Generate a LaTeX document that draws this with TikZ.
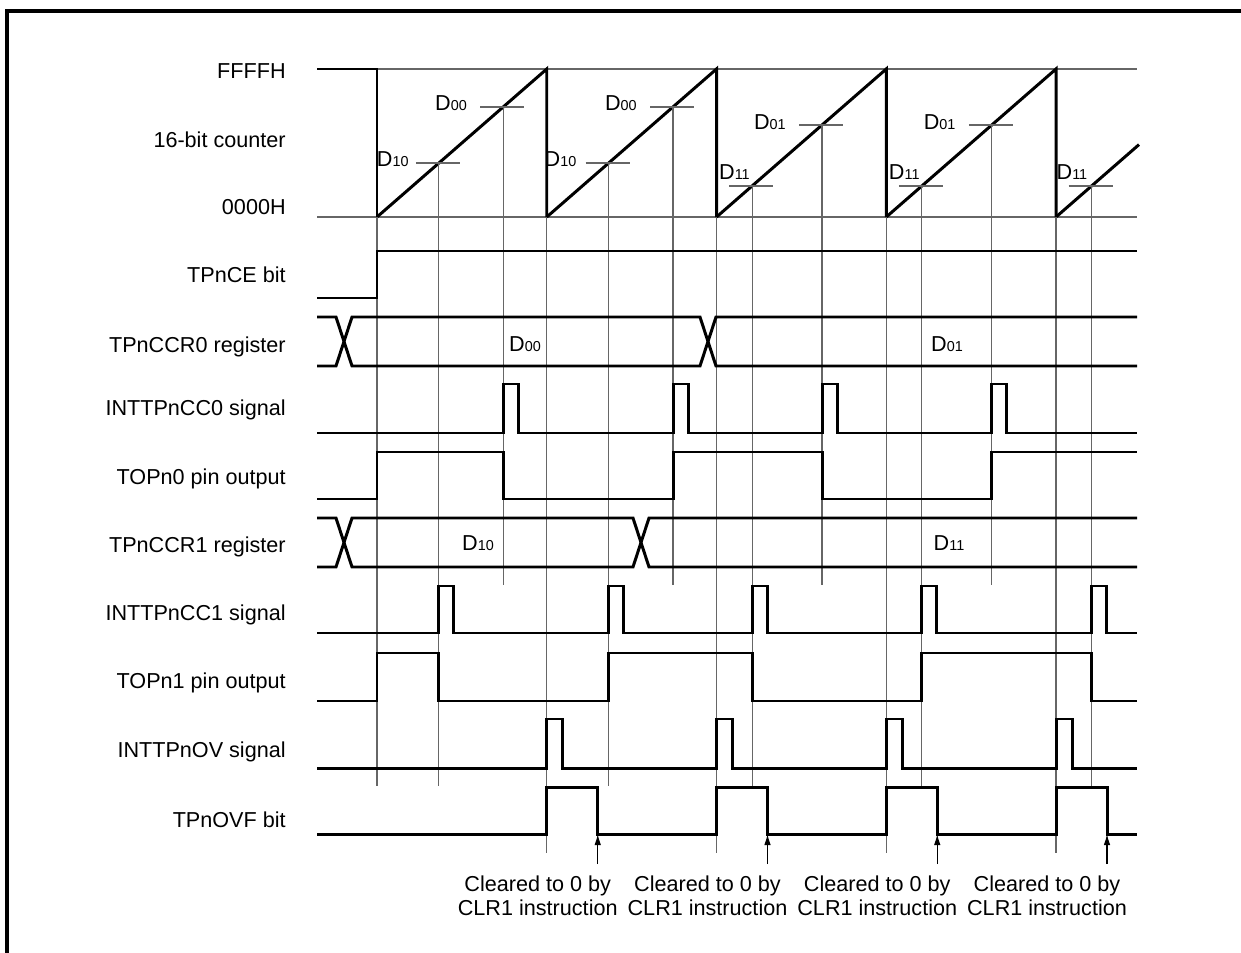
\documentclass[tikz,border=0pt]{standalone}
\usepackage{fontspec}
\setmainfont{Liberation Sans}
\usetikzlibrary{arrows.meta}

\newcommand{\Dval}[1]{D{\fontsize{8.2}{9}\selectfont #1}}

\begin{document}
\begin{tikzpicture}[x=0.02cm,y=-0.02cm,
  sig/.style={line width=1.7pt},
  guide/.style={line width=0.6pt,black!60},
  lbl/.style={anchor=east,inner sep=0pt},
  dlbl/.style={anchor=base east,inner sep=0pt},
  font=\fontsize{12.3}{14.2}\selectfont]

  \useasboundingbox (0,0) rectangle (1241,953);

  % Draw frame
  \draw[line width=1.8pt] (7,953) -- (7,11) -- (1241,11);

  % Row labels
  \node[lbl] (lblFFFF) at (286,71) {FFFFH};
  \node[lbl] (lblCnt) at (286,140) {16-bit counter};
  \node[lbl] (lblZero) at (286,207) {0000H};
  \node[lbl] (lblCE) at (286,275) {TPnCE bit};
  \node[lbl] (lblCCR0) at (286,347) {TPnCCR0 register};
  \node[lbl] (lblCC0) at (286,410) {INTTPnCC0 signal};
  \node[lbl] (lblTOP0) at (286,479) {TOPn0 pin output};
  \node[lbl] (lblCCR1) at (286,547) {TPnCCR1 register};
  \node[lbl] (lblCC1) at (286,615) {INTTPnCC1 signal};
  \node[lbl] (lblTOP1) at (286,683) {TOPn1 pin output};
  \node[lbl] (lblOV) at (286,752) {INTTPnOV signal};
  \node[lbl] (lblOVF) at (286,820) {TPnOVF bit};

  % Draw counter
  \draw[guide] (377,69) -- (1137,69);
  \draw[guide] (317,217) -- (1137,217);
  \draw[sig] (317,69) -- (377,69) -- (377,217);
  \foreach \s in {377,546.75,716.5,886.25}
    \draw[sig] (\s,217) -- (\s+169.75,69) -- (\s+169.75,217);
  \draw[sig] (1056,217) -- (1139,144.6);

  % Draw guides at counter start and overflow
  \draw[guide] (377,217) -- (377,786);
  \foreach \x in {546.75,716.5,886.25,1056}
    \draw[guide] (\x,217) -- (\x,853);

  % Compare values D1x
  \foreach \x/\y/\n/\lx/\ly [count=\i] in {438.9/163/10/-30/167, 608.7/163/10/-32/167,
      752.1/186/11/-2/179, 921.9/186/11/-2/179, 1091.6/186/11/-4/179} {
    \draw[guide] (\x-23,\y) -- (\x+21,\y);
    \draw[guide] (\x,\y) -- (\x,786);
    \node[dlbl] (cntB\i) at (\x+\lx,\ly) {\Dval{\n}};
  }

  % Compare values D0x
  \foreach \x/\y/\n/\ly [count=\i] in {503.2/107/00/111, 673/107/00/111,
      822/125/01/130, 991.8/125/01/130} {
    \draw[guide] (\x-23,\y) -- (\x+21,\y);
    \draw[guide] (\x,\y) -- (\x,585);
    \node[dlbl] (cntA\i) at (\x-36,\ly) {\Dval{\n}};
  }

  % TPnCE bit
  \draw[sig] (317,298) -- (377,298) -- (377,251) -- (1137,251);

  % TPnCCR0 register
  \draw[sig] (317,317) -- (336,317) -- (352,366) -- (700,366) -- (716,317) -- (1137,317);
  \draw[sig] (317,366) -- (336,366) -- (352,317) -- (700,317) -- (716,366) -- (1137,366);
  \node (ccr0a) at (525,344) {\Dval{00}};
  \node (ccr0b) at (947,344) {\Dval{01}};

  % INTTPnCC0 signal
  \draw[sig] (317,433) \foreach \p in {503.2,673,822,991.8} {
    -- (\p,433) -- (\p,384) -- (\p+15,384) -- (\p+15,433)} -- (1137,433);

  % TOPn0 pin output
  \draw[sig] (317,499) -- (377,499) -- (377,452) -- (503.2,452) -- (503.2,499)
    -- (673,499) -- (673,452) -- (822,452) -- (822,499) -- (991.8,499)
    -- (991.8,452) -- (1137,452);

  % TPnCCR1 register
  \draw[sig] (317,518) -- (336,518) -- (352,567) -- (633,567) -- (649,518) -- (1137,518);
  \draw[sig] (317,567) -- (336,567) -- (352,518) -- (633,518) -- (649,567) -- (1137,567);
  \node (ccr1a) at (478,543) {\Dval{10}};
  \node (ccr1b) at (949,543) {\Dval{11}};

  % INTTPnCC1 signal
  \draw[sig] (317,633) \foreach \p in {438.9,608.7,752.1,921.9,1091.6} {
    -- (\p,633) -- (\p,586) -- (\p+15,586) -- (\p+15,633)} -- (1137,633);

  % TOPn1 pin output
  \draw[sig] (317,701) -- (377,701) -- (377,653) -- (438.9,653) -- (438.9,701)
    -- (608.7,701) -- (608.7,653) -- (752.1,653) -- (752.1,701) -- (921.9,701)
    -- (921.9,653) -- (1091.6,653) -- (1091.6,701) -- (1137,701);

  % INTTPnOV signal
  \draw[sig] (317,768) \foreach \p in {546.75,716.5,886.25,1056} {
    -- (\p,768) -- (\p,719) -- (\p+16,719) -- (\p+16,768)} -- (1137,768);

  % TPnOVF bit
  \draw[sig] (317,834) \foreach \p in {546.75,716.5,886.25,1056} {
    -- (\p,834) -- (\p,787) -- (\p+51,787) -- (\p+51,834)} -- (1137,834);

  % Cleared by CLR1
  \foreach \p [count=\i] in {546.75,716.5,886.25,1056} {
    \coordinate (clrFrom\i) at (\p+51,864);
    \coordinate (clrTo\i) at (\p+51,834);
    \draw[-{Latex[length=2.2mm,width=1.3mm]},line width=0.6pt] (clrFrom\i) -- (clrTo\i);
    \node[anchor=north,align=center,inner sep=0pt] (clrTxt\i) at (\p-9,875)
      {Cleared to 0 by\\CLR1 instruction};
  }

\end{tikzpicture}
\end{document}
